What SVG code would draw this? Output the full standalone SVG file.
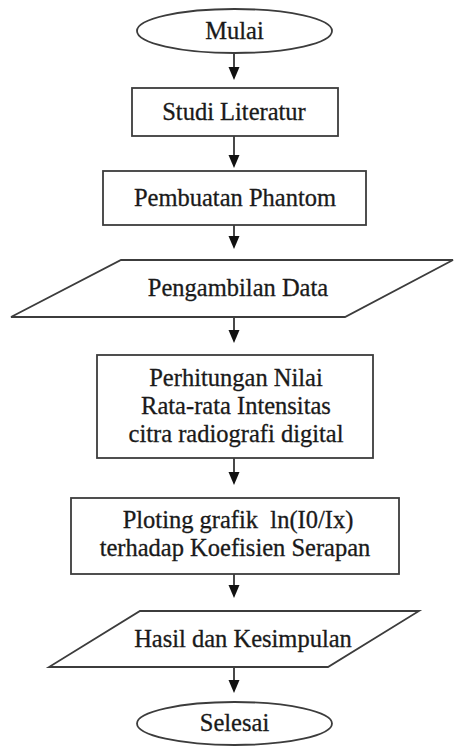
<svg xmlns="http://www.w3.org/2000/svg" width="455" height="747" viewBox="0 0 455 747">
<defs>
<style>
.shape{fill:#ffffff;stroke:#3c3c3c;stroke-width:1.8}
.lbl{font-family:"Liberation Serif","Times New Roman",serif;font-size:24.5px;fill:#1a1a1a;stroke:#1a1a1a;stroke-width:0.3;text-anchor:middle}
.conn{stroke:#1a1a1a;stroke-width:1.6;fill:none}
.head{fill:#111111}
</style>
</defs>
<rect width="455" height="747" fill="#ffffff"/>
<g id="connectors">
<line class="conn" x1="234" y1="53" x2="234" y2="68"/>
<path class="head" d="M228.5,67 L239.5,67 L234,80 Z"/>
<line class="conn" x1="234" y1="136" x2="234" y2="156"/>
<path class="head" d="M228.5,155 L239.5,155 L234,168 Z"/>
<line class="conn" x1="234" y1="225" x2="234" y2="237"/>
<path class="head" d="M228.5,236 L239.5,236 L234,249 Z"/>
<line class="conn" x1="234" y1="317" x2="234" y2="331"/>
<path class="head" d="M228.5,330 L239.5,330 L234,343 Z"/>
<line class="conn" x1="234" y1="458" x2="234" y2="473"/>
<path class="head" d="M228.5,472 L239.5,472 L234,485 Z"/>
<line class="conn" x1="234" y1="574" x2="234" y2="586"/>
<path class="head" d="M228.5,585 L239.5,585 L234,598 Z"/>
<line class="conn" x1="234" y1="667" x2="234" y2="681"/>
<path class="head" d="M228.5,680 L239.5,680 L234,693 Z"/>
</g>
<g id="mulai">
<ellipse class="shape" cx="234.5" cy="31" rx="97.5" ry="22"/>
<text class="lbl" x="234.5" y="39">Mulai</text>
</g>
<g id="studi-literatur">
<rect class="shape" x="132" y="88" width="206" height="48"/>
<text class="lbl" x="234" y="120">Studi Literatur</text>
</g>
<g id="pembuatan-phantom">
<rect class="shape" x="103" y="171" width="263" height="54"/>
<text class="lbl" x="235" y="206">Pembuatan Phantom</text>
</g>
<g id="pengambilan-data">
<polygon class="shape" points="121,260 453,260 345,317 11,317"/>
<text class="lbl" x="238" y="296">Pengambilan Data</text>
</g>
<g id="perhitungan">
<rect class="shape" x="97" y="355" width="276" height="103"/>
<text class="lbl" x="236" y="386">Perhitungan Nilai</text>
<text class="lbl" x="236" y="414">Rata-rata Intensitas</text>
<text class="lbl" x="236" y="442">citra radiografi digital</text>
</g>
<g id="ploting">
<rect class="shape" x="71" y="498" width="328" height="76"/>
<text class="lbl" x="238" y="528" style="white-space:pre" xml:space="preserve">Ploting grafik  ln(I0/Ix)</text>
<text class="lbl" x="235" y="556">terhadap Koefisien Serapan</text>
</g>
<g id="hasil">
<polygon class="shape" points="140,611 419,611 328,667 49,667"/>
<text class="lbl" x="243" y="647">Hasil dan Kesimpulan</text>
</g>
<g id="selesai">
<ellipse class="shape" cx="234.5" cy="723.5" rx="97.5" ry="21.5"/>
<text class="lbl" x="234.5" y="731">Selesai</text>
</g>
</svg>
